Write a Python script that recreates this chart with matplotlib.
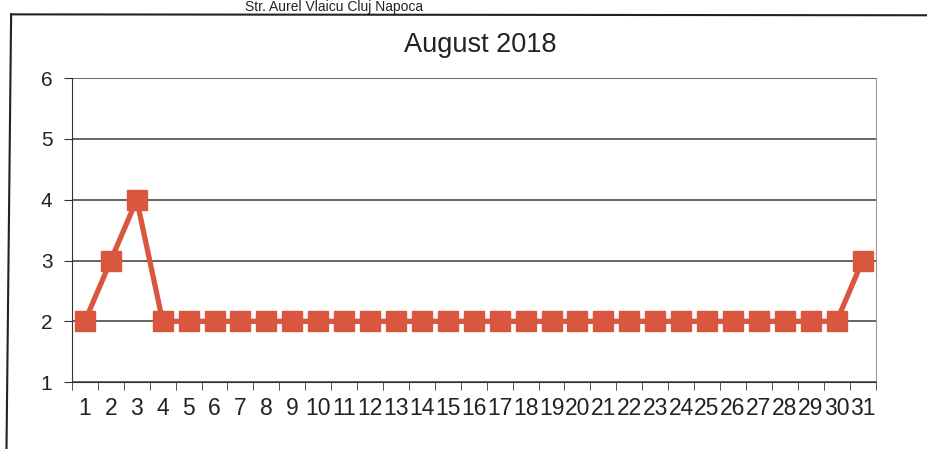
import matplotlib
matplotlib.use("Agg")
import matplotlib.pyplot as plt
from matplotlib.lines import Line2D
import numpy as np

days = list(range(1, 32))
values = [2, 3, 4] + [2] * 27 + [3]
title = "August 2018"
header = "Str. Aurel Vlaicu Cluj Napoca"

plt.rcParams["font.family"] = ["Liberation Sans", "DejaVu Sans"]

fig = plt.figure(figsize=(9.28, 4.49), dpi=100)
fig.patch.set_facecolor("white")

ax = fig.add_axes([0.0775, 0.149, 0.866, 0.677])
x = np.arange(len(days))
ax.plot(x, values, color="#d9573f", lw=3.8, marker="s", ms=15,
        markerfacecolor="#d9573f", markeredgecolor="#d9573f", zorder=3)

ax.set_xlim(-0.5, len(days) - 0.5)
ax.set_ylim(1, 6)
ax.set_yticks([1, 2, 3, 4, 5, 6])
ax.yaxis.grid(True, color="#3a3a3a", lw=1.1)
ax.set_axisbelow(True)
ax.set_xticks(x)
ax.set_xticklabels([str(d) for d in days], fontsize=16.5, color="#222222")
ax.tick_params(axis="x", length=0, pad=11)
ax.set_xticks(np.arange(-0.5, len(days), 1), minor=True)
ax.tick_params(axis="x", which="minor", length=6, color="#333333", direction="out")
ax.tick_params(axis="y", labelsize=15, length=6, color="#333333", labelcolor="#222222", pad=8)
ax.spines["top"].set_visible(False)
ax.spines["right"].set_color("#999999")
ax.spines["right"].set_linewidth(0.8)
ax.spines["left"].set_color("#333333")
ax.spines["bottom"].set_color("#333333")

fig.text(0.518, 0.899, title, ha="center", va="center", fontsize=19.5, color="#222222")
fig.text(0.36, 0.999, header, ha="center", va="top", fontsize=10, color="#222222")

# outer frame
fig.add_artist(Line2D([0.012, 1.0], [0.968, 0.966], transform=fig.transFigure, color="#222222", lw=1.5))
fig.add_artist(Line2D([0.012, 0.007], [0.968, 0.0], transform=fig.transFigure, color="#222222", lw=1.5))

fig.savefig("out.png", dpi=100)
